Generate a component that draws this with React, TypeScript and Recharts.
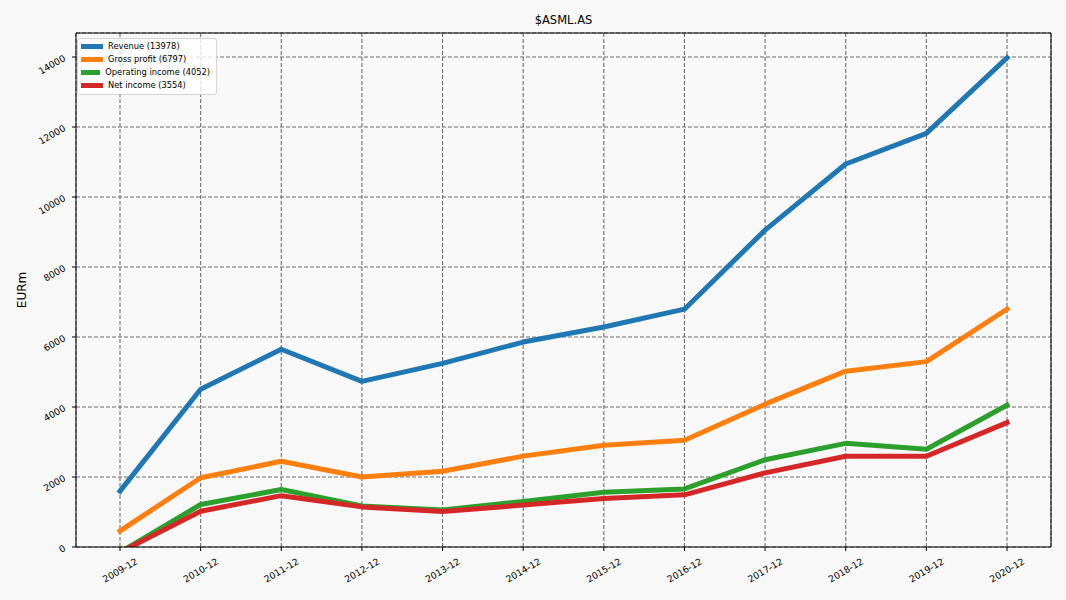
import React from 'react';
import { LineChart, Line, XAxis, YAxis, CartesianGrid, Legend } from 'recharts';

const categories = ['2009-12', '2010-12', '2011-12', '2012-12', '2013-12', '2014-12', '2015-12', '2016-12', '2017-12', '2018-12', '2019-12', '2020-12'];
const revenue = [1596, 4508, 5651, 4732, 5246, 5856, 6287, 6795, 9053, 10944, 11820, 13978];
const grossProfit = [459, 1978, 2449, 2000, 2165, 2596, 2906, 3050, 4081, 5024, 5297, 6797];
const operatingIncome = [-152, 1214, 1641, 1170, 1057, 1303, 1565, 1659, 2495, 2962, 2793, 4052];
const netIncome = [-151, 1022, 1467, 1146, 1016, 1197, 1387, 1490, 2119, 2592, 2592, 3554];
const yTicks = [0, 2000, 4000, 6000, 8000, 10000, 12000, 14000];
const yMax = 14686;

const seriesNames = ['Revenue (13978)', 'Gross profit (6797)', 'Operating income (4052)', 'Net income (3554)'];
const seriesKeys = ['revenue', 'gross', 'operating', 'net'];
const seriesColors = ['#1f77b4', '#ff7f0e', '#2ca02c', '#d62728'];

const data = categories.map((c, i) => ({
  cat: c,
  revenue: revenue[i],
  gross: grossProfit[i],
  operating: operatingIncome[i],
  net: netIncome[i],
}));

const FONT = '"DejaVu Sans", sans-serif';

const XTick = (props: any) => {
  const { x, y, payload } = props;
  const cy = y + 17;
  return (
    <text x={x} y={cy} textAnchor="middle" dominantBaseline="central" fontSize={9.2} fill="#000" fontFamily={FONT} transform={`rotate(-30, ${x}, ${cy})`}>
      {payload.value}
    </text>
  );
};

const YTick = (props: any) => {
  const { x, y, payload } = props;
  const ax = x - 5.5;
  return (
    <text x={ax} y={y} textAnchor="end" dominantBaseline="central" fontSize={9.2} fill="#000" fontFamily={FONT} transform={`rotate(-30, ${ax}, ${y})`}>
      {payload.value}
    </text>
  );
};

const YLabel = (props: any) => {
  const vb = props.viewBox || { x: 0, y: 0, width: 0, height: 0 };
  const cx = vb.x + 21.5;
  const cy = vb.y + vb.height / 2;
  return (
    <text x={cx} y={cy} textAnchor="middle" dominantBaseline="central" fontSize={12} fill="#000" fontFamily={FONT} transform={`rotate(-90, ${cx}, ${cy})`}>
      EURm
    </text>
  );
};

const LegendBox = () => (
  <div style={{
    background: 'rgba(255,255,255,0.8)', border: '1px solid #d4d4d4', borderRadius: 3,
    padding: '1px 6px 2px 3px', fontFamily: FONT, fontSize: 8.3, color: '#000', boxSizing: 'border-box',
  }}>
    {seriesNames.map((n, i) => (
      <div key={n} style={{ display: 'flex', alignItems: 'center', height: 12.9, whiteSpace: 'nowrap' }}>
        <span style={{ display: 'inline-block', width: 22, height: 5, background: seriesColors[i], marginRight: 5 }} />
        <span>{n}</span>
      </div>
    ))}
  </div>
);

export default function App() {
  return (
    <div style={{ position: 'absolute', left: 0, top: 0, width: 1066, height: 600, background: '#f8f8f8' }}>
      <div style={{ position: 'absolute', left: 76, width: 975, top: 12, textAlign: 'center', fontFamily: FONT, fontSize: 11.5, color: '#000', lineHeight: '16px' }}>
        $ASML.AS
      </div>
      <LineChart width={1066} height={600} data={data} margin={{ top: 32, right: 14, bottom: 0, left: 0 }}>
        <CartesianGrid stroke="#6e6e6e" strokeDasharray="4 2" strokeWidth={1.1} />
        <XAxis dataKey="cat" height={53} padding={{ left: 44, right: 44 }} tick={<XTick />} tickSize={4} tickMargin={2}
          axisLine={{ stroke: '#000', strokeWidth: 1 }} tickLine={{ stroke: '#000' }} interval={0} />
        <XAxis xAxisId="top" dataKey="cat" orientation="top" height={1} padding={{ left: 44, right: 44 }} tick={false} tickLine={false}
          axisLine={{ stroke: '#000', strokeWidth: 1 }} />
        <YAxis width={76} domain={[0, yMax]} ticks={yTicks} allowDataOverflow tick={<YTick />} tickSize={4} tickMargin={2}
          axisLine={{ stroke: '#000', strokeWidth: 1 }} tickLine={{ stroke: '#000' }} label={<YLabel />} interval={0} />
        <YAxis yAxisId="right" orientation="right" width={1} domain={[0, yMax]} ticks={yTicks} allowDataOverflow tick={false} tickLine={false}
          axisLine={{ stroke: '#000', strokeWidth: 1 }} />
        <Legend layout="vertical" align="center" verticalAlign="middle" content={<LegendBox />}
          wrapperStyle={{ left: 77, top: 38, width: 140, height: 'auto', right: 'auto', bottom: 'auto' }} />
        {seriesKeys.map((k, i) => (
          <Line key={k} type="linear" dataKey={k} name={seriesNames[i]} stroke={seriesColors[i]} strokeWidth={5}
            strokeLinecap="square" strokeLinejoin="round" dot={false} activeDot={false} isAnimationActive={false} />
        ))}
      </LineChart>
    </div>
  );
}
